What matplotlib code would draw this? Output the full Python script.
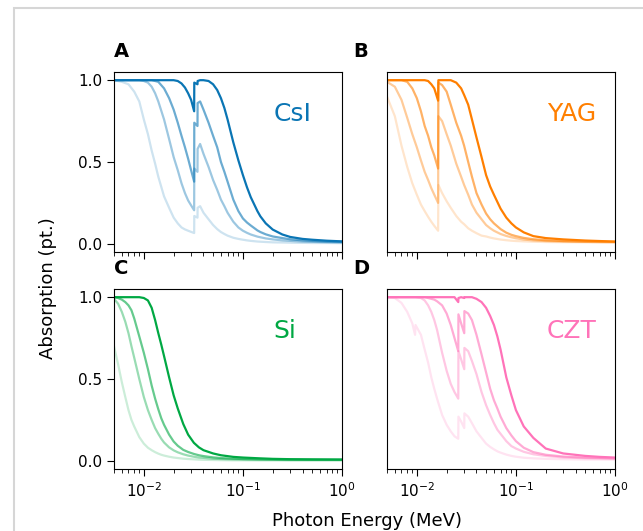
"""
Absorption vs photon energy for four scintillator / detector materials,
each shown at four thicknesses (lightest line = thinnest layer).
"""

import matplotlib.pyplot as plt
from matplotlib.patches import Rectangle


# =========================================================
# Data: photon energy (MeV) and absorbed fraction
# (rows ordered thinnest -> thickest)
# =========================================================
CSI_ENERGY = [0.005, 0.006, 0.007, 0.008, 0.009, 0.010, 0.011, 0.012, 0.013,
              0.014, 0.016, 0.018, 0.020, 0.022, 0.024, 0.026, 0.028, 0.030,
              0.0322, 0.0323, 0.0348, 0.0349, 0.037, 0.040, 0.045, 0.050,
              0.055, 0.060, 0.065, 0.070, 0.080, 0.090, 0.10, 0.11, 0.12,
              0.14, 0.15, 0.17, 0.20, 0.25, 0.30, 0.40, 0.50, 0.70, 1.0]
CSI_ABS = [
    [1.0, 0.99, 0.975, 0.93, 0.87, 0.76, 0.67, 0.57, 0.49, 0.41, 0.29, 0.22,
     0.16, 0.125, 0.10, 0.088, 0.08, 0.073, 0.066, 0.17, 0.16, 0.22, 0.23,
     0.19, 0.15, 0.115, 0.09, 0.072, 0.06, 0.05, 0.037, 0.03, 0.025, 0.021,
     0.018, 0.014, 0.013, 0.011, 0.009, 0.008, 0.007, 0.006, 0.005, 0.005,
     0.004],
    [1.0, 1.0, 1.0, 1.0, 1.0, 0.995, 0.985, 0.96, 0.92, 0.87, 0.76, 0.64,
     0.53, 0.45, 0.37, 0.31, 0.265, 0.235, 0.205, 0.46, 0.44, 0.58, 0.61,
     0.55, 0.47, 0.39, 0.33, 0.27, 0.23, 0.19, 0.135, 0.10, 0.08, 0.067,
     0.057, 0.044, 0.04, 0.033, 0.027, 0.021, 0.018, 0.014, 0.012, 0.01,
     0.008],
    [1.0, 1.0, 1.0, 1.0, 1.0, 1.0, 1.0, 1.0, 0.995, 0.99, 0.95, 0.89, 0.82,
     0.74, 0.66, 0.59, 0.52, 0.45, 0.38, 0.74, 0.72, 0.86, 0.87, 0.82, 0.74,
     0.66, 0.59, 0.50, 0.44, 0.38, 0.27, 0.20, 0.155, 0.13, 0.112, 0.082,
     0.072, 0.058, 0.045, 0.035, 0.028, 0.021, 0.018, 0.014, 0.012],
    [1.0, 1.0, 1.0, 1.0, 1.0, 1.0, 1.0, 1.0, 1.0, 1.0, 1.0, 1.0, 1.0, 0.995,
     0.98, 0.955, 0.92, 0.88, 0.81, 0.985, 0.975, 0.995, 1.0, 1.0, 0.995,
     0.975, 0.94, 0.89, 0.83, 0.76, 0.62, 0.51, 0.42, 0.345, 0.285, 0.20,
     0.168, 0.125, 0.087, 0.057, 0.042, 0.03, 0.025, 0.019, 0.015],
]

YAG_ENERGY = [0.005, 0.006, 0.007, 0.008, 0.009, 0.010, 0.011, 0.012, 0.013,
              0.014, 0.015, 0.0164, 0.0165, 0.018, 0.020, 0.022, 0.025, 0.028,
              0.030, 0.033, 0.036, 0.040, 0.045, 0.050, 0.055, 0.060, 0.070,
              0.080, 0.090, 0.10, 0.12, 0.15, 0.20, 0.30, 0.50, 0.70, 1.0]
YAG_ABS = [
    [0.90, 0.78, 0.60, 0.47, 0.37, 0.30, 0.24, 0.20, 0.165, 0.135, 0.11,
     0.08, 0.36, 0.31, 0.26, 0.22, 0.17, 0.135, 0.12, 0.095, 0.08, 0.065,
     0.05, 0.045, 0.038, 0.033, 0.026, 0.022, 0.019, 0.017, 0.015, 0.013,
     0.011, 0.01, 0.009, 0.008, 0.008],
    [0.99, 0.96, 0.88, 0.77, 0.67, 0.59, 0.51, 0.44, 0.39, 0.34, 0.30, 0.25,
     0.78, 0.75, 0.67, 0.60, 0.49, 0.41, 0.36, 0.30, 0.24, 0.19, 0.15, 0.115,
     0.095, 0.08, 0.06, 0.048, 0.04, 0.034, 0.026, 0.021, 0.017, 0.014,
     0.012, 0.011, 0.01],
    [1.0, 1.0, 1.0, 0.99, 0.95, 0.89, 0.81, 0.72, 0.66, 0.59, 0.54, 0.46,
     0.985, 0.97, 0.93, 0.85, 0.74, 0.66, 0.60, 0.50, 0.41, 0.31, 0.24,
     0.185, 0.15, 0.125, 0.09, 0.068, 0.055, 0.047, 0.036, 0.028, 0.022,
     0.017, 0.014, 0.013, 0.012],
    [1.0, 1.0, 1.0, 1.0, 1.0, 1.0, 1.0, 1.0, 0.995, 0.975, 0.95, 0.875, 1.0,
     1.0, 1.0, 1.0, 0.985, 0.95, 0.91, 0.85, 0.76, 0.65, 0.53, 0.42, 0.35,
     0.30, 0.215, 0.16, 0.125, 0.10, 0.07, 0.047, 0.035, 0.027, 0.02,
     0.017, 0.014],
]

SI_ENERGY = [0.005, 0.0055, 0.006, 0.0065, 0.007, 0.0075, 0.008, 0.009,
             0.010, 0.011, 0.012, 0.013, 0.014, 0.015, 0.016, 0.018, 0.020,
             0.022, 0.025, 0.028, 0.032, 0.036, 0.040, 0.050, 0.060, 0.080,
             0.10, 0.15, 0.20, 0.30, 0.50, 1.0]
SI_ABS = [
    [0.70, 0.59, 0.48, 0.39, 0.31, 0.25, 0.21, 0.145, 0.105, 0.08, 0.065,
     0.053, 0.044, 0.037, 0.032, 0.025, 0.02, 0.017, 0.013, 0.011, 0.009,
     0.007, 0.006, 0.005, 0.004, 0.003, 0.003, 0.002, 0.002, 0.002, 0.002,
     0.002],
    [0.99, 0.96, 0.91, 0.85, 0.78, 0.70, 0.63, 0.50, 0.39, 0.31, 0.25, 0.20,
     0.165, 0.135, 0.112, 0.082, 0.064, 0.052, 0.04, 0.032, 0.025, 0.02,
     0.018, 0.013, 0.011, 0.009, 0.008, 0.007, 0.006, 0.005, 0.005, 0.005],
    [1.0, 0.995, 0.985, 0.97, 0.95, 0.92, 0.87, 0.76, 0.66, 0.56, 0.46, 0.38,
     0.315, 0.26, 0.22, 0.16, 0.118, 0.092, 0.067, 0.054, 0.042, 0.034,
     0.029, 0.021, 0.017, 0.013, 0.011, 0.009, 0.008, 0.007, 0.006, 0.006],
    [1.0, 1.0, 1.0, 1.0, 1.0, 1.0, 1.0, 1.0, 0.995, 0.98, 0.935, 0.86, 0.78,
     0.71, 0.64, 0.51, 0.40, 0.32, 0.225, 0.16, 0.11, 0.082, 0.065, 0.045,
     0.034, 0.024, 0.02, 0.015, 0.012, 0.01, 0.009, 0.008],
]

CZT_ENERGY = [0.005, 0.006, 0.007, 0.008, 0.009, 0.0096, 0.0097, 0.011,
              0.012, 0.013, 0.014, 0.015, 0.016, 0.018, 0.020, 0.022, 0.024,
              0.0262, 0.0263, 0.028, 0.0301, 0.0302, 0.033, 0.036, 0.040,
              0.045, 0.050, 0.055, 0.060, 0.065, 0.070, 0.080, 0.090, 0.10,
              0.12, 0.15, 0.20, 0.30, 0.50, 0.70, 1.0]
CZT_ABS = [
    [1.0, 0.995, 0.965, 0.91, 0.84, 0.77, 0.83, 0.77, 0.68, 0.60, 0.51, 0.44,
     0.38, 0.28, 0.22, 0.18, 0.15, 0.135, 0.27, 0.24, 0.20, 0.29, 0.27, 0.23,
     0.18, 0.14, 0.105, 0.085, 0.07, 0.058, 0.05, 0.038, 0.03, 0.025, 0.019,
     0.015, 0.012, 0.01, 0.008, 0.008, 0.007],
    [1.0, 1.0, 1.0, 1.0, 1.0, 1.0, 1.0, 0.995, 0.98, 0.95, 0.91, 0.86, 0.80,
     0.66, 0.55, 0.47, 0.42, 0.38, 0.67, 0.62, 0.56, 0.69, 0.67, 0.61, 0.53,
     0.42, 0.34, 0.28, 0.23, 0.19, 0.165, 0.12, 0.09, 0.075, 0.055, 0.04,
     0.03, 0.021, 0.016, 0.014, 0.012],
    [1.0, 1.0, 1.0, 1.0, 1.0, 1.0, 1.0, 1.0, 1.0, 0.995, 0.99, 0.985, 0.975,
     0.95, 0.90, 0.83, 0.75, 0.67, 0.895, 0.84, 0.78, 0.915, 0.90, 0.86,
     0.77, 0.65, 0.54, 0.44, 0.37, 0.32, 0.27, 0.20, 0.155, 0.12, 0.08,
     0.053, 0.037, 0.026, 0.02, 0.018, 0.016],
    [1.0, 1.0, 1.0, 1.0, 1.0, 1.0, 1.0, 1.0, 1.0, 1.0, 1.0, 1.0, 1.0, 1.0,
     1.0, 1.0, 1.0, 0.97, 0.995, 1.0, 0.995, 1.0, 1.0, 1.0, 0.99, 0.97,
     0.935, 0.885, 0.83, 0.76, 0.68, 0.51, 0.40, 0.31, 0.21, 0.14, 0.075,
     0.045, 0.03, 0.024, 0.02],
]

MATERIALS = ['CsI', 'YAG', 'Si', 'CZT']
PANEL_LABELS = ['A', 'B', 'C', 'D']
COLORS = ['#0a75b4', '#ff7f00', '#00a843', '#ff73b9']
ALPHAS = [0.2, 0.4, 0.6, 1.0]


def make_figure():
    W, H = 643, 531
    fig = plt.figure(figsize=(W / 100, H / 100), dpi=100)

    # light frame around the figure area
    fig.patches.append(Rectangle((14 / W, -0.1), 1.2, 1.1 - 8 / H,
                                 transform=fig.transFigure, fill=False,
                                 edgecolor='#d6d6d6', linewidth=1.5))

    # axes boxes in pixels: (left, top)
    boxes = [(114, 72), (387, 72), (114, 289), (387, 289)]
    aw, ah = 228, 180

    data = [(CSI_ENERGY, CSI_ABS), (YAG_ENERGY, YAG_ABS),
            (SI_ENERGY, SI_ABS), (CZT_ENERGY, CZT_ABS)]

    for i, ((left, top), (energy, curves)) in enumerate(zip(boxes, data)):
        ax = fig.add_axes([left / W, (H - top - ah) / H, aw / W, ah / H])
        for absorb, alpha in zip(curves, ALPHAS):
            ax.plot(energy, absorb, color=COLORS[i], alpha=alpha, lw=1.6)

        ax.set_xscale('log')
        ax.set_xlim(0.005, 1.0)
        ax.set_ylim(-0.05, 1.05)
        ax.set_yticks([0.0, 0.5, 1.0])
        ax.tick_params(labelsize=11)
        ax.tick_params(which='major', length=5)
        ax.tick_params(which='minor', length=3)

        if i < 2:
            ax.tick_params(labelbottom=False)
        if i % 2 == 1:
            ax.tick_params(axis='y', left=False, labelleft=False)

        ax.text(0.7, 0.726, MATERIALS[i], transform=ax.transAxes,
                color=COLORS[i], fontsize=18, ha='left', va='baseline')

        letter_x = left if i % 2 == 0 else 353
        fig.text(letter_x / W, 1 - (top - 15) / H, PANEL_LABELS[i],
                 fontsize=14, fontweight='bold', ha='left', va='baseline')

    fig.text(48 / W, 1 - 288 / H, 'Absorption (pt.)', rotation=90,
             fontsize=13, ha='center', va='center')
    fig.text(367 / W, 5 / H, 'Photon Energy (MeV)', fontsize=13,
             ha='center', va='baseline')
    return fig


def main():
    fig = make_figure()
    fig.savefig('out.png', dpi=100)
    plt.close(fig)


if __name__ == '__main__':
    main()
